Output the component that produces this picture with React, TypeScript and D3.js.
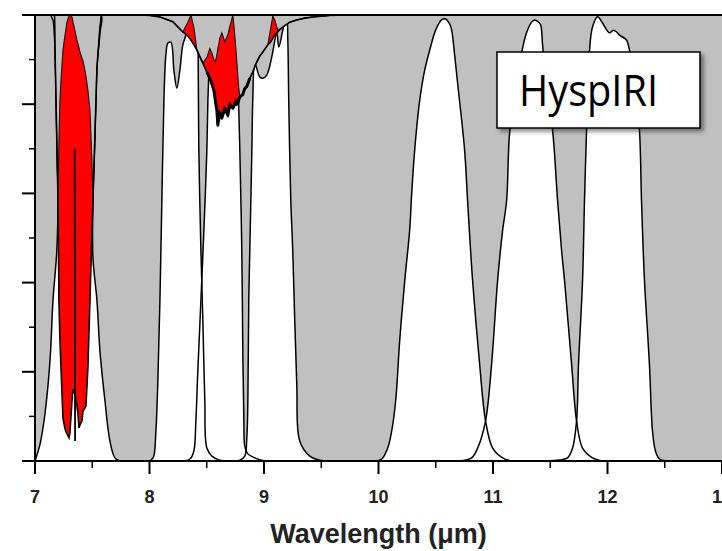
import React from "react";
import * as d3 from "d3";

const WIDTH = 722;
const HEIGHT = 551;

// Axis ticks
const xMajorTicks = [7, 8, 9, 10, 11, 12, 13];
const xMinorTicks = [7.5, 8.5, 9.5, 10.5, 11.5, 12.5];
const yMajorTicks = [0, 0.2, 0.4, 0.6, 0.8, 1.0];
const yMinorTicks = [0.1, 0.3, 0.5, 0.7, 0.9];
const xTickLabels = ["7", "8", "9", "10", "11", "12", "13"];
const xAxisTitle = "Wavelength (\u03bcm)";
const sensorName = "HyspIRI";

// Spectral response functions of the TIR bands: [wavelength (µm), relative response]
const band735: [number, number][] = [
  [7.0, 0], [7.044, 0.038], [7.087, 0.106], [7.131, 0.225], [7.157, 0.36], [7.19, 0.47],
  [7.201, 0.584], [7.192, 0.7], [7.175, 0.92], [7.16, 0.985], [7.145, 1.0], [7.36, 1.0],
  [7.575, 1.0], [7.567, 0.96], [7.541, 0.883], [7.524, 0.735], [7.506, 0.584], [7.506, 0.456],
  [7.541, 0.36], [7.567, 0.247], [7.611, 0.135], [7.654, 0.045], [7.698, 0.007], [7.742, 0],
];
const band828: [number, number][] = [
  [8.0, 0], [8.021, 0.004], [8.038, 0.011], [8.056, 0.067], [8.073, 0.18], [8.091, 0.36],
  [8.108, 0.584], [8.126, 0.809], [8.143, 0.91], [8.161, 0.937], [8.187, 0.939], [8.213, 0.876],
  [8.239, 0.836], [8.265, 0.876], [8.291, 0.933], [8.318, 0.955], [8.36, 1.0], [8.414, 1.0],
  [8.425, 0.9], [8.431, 0.697], [8.449, 0.472], [8.466, 0.315], [8.483, 0.135], [8.501, 0.029],
  [8.545, 0.011], [8.614, 0.002], [8.7, 0],
];
const band863: [number, number][] = [
  [8.28, 0], [8.353, 0.0045], [8.387, 0.022], [8.405, 0.09], [8.422, 0.202], [8.449, 0.36],
  [8.475, 0.517], [8.501, 0.697], [8.51, 0.809], [8.52, 0.88], [8.527, 0.917], [8.545, 0.9],
  [8.579, 0.966], [8.632, 1.0], [8.754, 1.0], [8.771, 0.876], [8.789, 0.697], [8.806, 0.472],
  [8.815, 0.247], [8.824, 0.09], [8.832, 0.034], [8.859, 0.016], [8.92, 0.007], [9.007, 0],
];
const band907: [number, number][] = [
  [8.72, 0], [8.789, 0.002], [8.832, 0.011], [8.85, 0.052], [8.859, 0.135], [8.867, 0.36],
  [8.876, 0.472], [8.894, 0.697], [8.902, 0.809], [8.92, 0.892], [8.963, 0.861], [8.99, 0.858],
  [9.024, 0.865], [9.068, 0.906], [9.112, 0.96], [9.129, 0.928], [9.164, 0.966], [9.181, 0.982],
  [9.199, 0.989], [9.208, 0.944], [9.216, 0.809], [9.234, 0.584], [9.251, 0.472], [9.286, 0.173],
  [9.312, 0.045], [9.4, 0.011], [9.487, 0.002], [9.574, 0],
];
const band1053: [number, number][] = [
  [9.967, 0], [10.028, 0.0045], [10.08, 0.029], [10.115, 0.067], [10.15, 0.135], [10.185, 0.27],
  [10.229, 0.404], [10.272, 0.517], [10.29, 0.6], [10.316, 0.697], [10.36, 0.809], [10.403, 0.876],
  [10.447, 0.921], [10.499, 0.966], [10.551, 0.989], [10.586, 0.991], [10.621, 0.98], [10.639, 0.966],
  [10.665, 0.91], [10.691, 0.847], [10.752, 0.697], [10.778, 0.584], [10.822, 0.404], [10.883, 0.218],
  [10.935, 0.09], [10.997, 0.029], [11.084, 0.007], [11.162, 0],
];
const band1133: [number, number][] = [
  [10.708, 0], [10.813, 0.007], [10.866, 0.029], [10.935, 0.09], [10.988, 0.218], [11.04, 0.404],
  [11.084, 0.517], [11.119, 0.584], [11.145, 0.735], [11.188, 0.809], [11.25, 0.915], [11.293, 0.96],
  [11.337, 0.984], [11.363, 0.989], [11.398, 0.984], [11.416, 0.978], [11.433, 0.933], [11.468, 0.831],
  [11.52, 0.742], [11.564, 0.584], [11.599, 0.472], [11.625, 0.404], [11.686, 0.218], [11.73, 0.09],
  [11.782, 0.029], [11.869, 0.007], [11.948, 0],
];
const band1205: [number, number][] = [
  [11.45, 0], [11.581, 0.002], [11.651, 0.007], [11.695, 0.029], [11.73, 0.09], [11.747, 0.218],
  [11.782, 0.404], [11.799, 0.584], [11.817, 0.742], [11.834, 0.854], [11.843, 0.921], [11.869, 0.973],
  [11.913, 0.996], [11.956, 0.982], [12.017, 0.96], [12.052, 0.966], [12.079, 0.962], [12.105, 0.955],
  [12.166, 0.944], [12.192, 0.921], [12.236, 0.854], [12.279, 0.742], [12.297, 0.584], [12.323, 0.404],
  [12.366, 0.218], [12.393, 0.067], [12.419, 0.022], [12.454, 0.0045], [12.506, 0],
];
const bands = [band735, band828, band863, band907, band1053, band1133, band1205];

// Atmospheric transmission (black) and the alternate profile (red fill between them)
const atmWavelength = [
  6.8, 7.17, 7.175, 7.192, 7.201, 7.209, 7.218, 7.227, 7.244, 7.262, 7.279, 7.297, 7.305, 7.323,
  7.332, 7.349, 7.366, 7.375, 7.384, 7.393, 7.41, 7.419, 7.436, 7.445, 7.462, 7.48, 7.497, 7.506,
  7.524, 7.541, 7.567, 7.58, 7.916, 8.003, 8.091, 8.204, 8.291, 8.335, 8.362, 8.388, 8.414, 8.466,
  8.501, 8.527, 8.545, 8.562, 8.571, 8.579, 8.588, 8.597, 8.606, 8.614, 8.632, 8.658, 8.684, 8.702,
  8.71, 8.728, 8.745, 8.754, 8.762, 8.771, 8.78, 8.789, 8.815, 8.832, 8.85, 8.876, 8.902, 8.928,
  8.963, 8.99, 9.033, 9.059, 9.077, 9.094, 9.12, 9.164, 9.225, 9.286, 9.356, 9.426, 9.574, 9.705,
  13.5,
];
const atmTransmission = [
  1, 1, 0.92, 0.7, 0.584, 0.36, 0.27, 0.209, 0.097, 0.072, 0.061, 0.052, 0.063, 0.135,
  0.16, 0.15, 0.124, 0.106, 0.074, 0.081, 0.09, 0.112, 0.119, 0.124, 0.209, 0.36, 0.51, 0.584,
  0.735, 0.883, 0.97, 1, 1, 0.999, 0.9955, 0.985, 0.962, 0.953, 0.944, 0.933, 0.921, 0.892,
  0.872, 0.858, 0.845, 0.831, 0.816, 0.8, 0.787, 0.753, 0.77, 0.782, 0.769, 0.791, 0.775, 0.8,
  0.795, 0.791, 0.8, 0.809, 0.8, 0.802, 0.81, 0.816, 0.822, 0.835, 0.84, 0.858, 0.872, 0.89,
  0.908, 0.917, 0.933, 0.94, 0.948, 0.955, 0.962, 0.973, 0.984, 0.989, 0.993, 0.9955, 0.999, 1,
  1,
];
const atmTransmissionAlt = [
  1, 1, 0.92, 0.7, 0.584, 0.719, 0.809, 0.854, 0.921, 0.955, 0.984, 0.998, 1.0, 0.9955,
  0.984, 0.965, 0.944, 0.935, 0.926, 0.917, 0.903, 0.897, 0.876, 0.863, 0.831, 0.787, 0.674, 0.584,
  0.735, 0.883, 0.97, 1, 1, 0.999, 0.9955, 0.985, 0.962, 0.984, 1.0, 0.971, 0.921, 0.892,
  0.905, 0.925, 0.915, 0.9, 0.895, 0.9, 0.91, 0.925, 0.935, 0.948, 0.96, 0.94, 0.955, 0.975,
  0.982, 1.0, 0.955, 0.925, 0.899, 0.865, 0.835, 0.816, 0.822, 0.835, 0.84, 0.858, 0.872, 0.89,
  0.908, 0.917, 0.933, 0.971, 0.998, 0.989, 0.966, 0.973, 0.984, 0.989, 0.993, 0.9955, 0.999, 1,
  1,
];
// Narrow dark trace inside the 7.35 µm absorption
const coreTrace: [number, number][] = [[7.346, 0.7], [7.349, 0.3], [7.35, 0.045]];

export default function App() {
  const x = d3.scaleLinear().domain([7, 13]).range([35, 722]);
  const y = d3.scaleLinear().domain([0, 1]).range([461, 15]);

  const atm = atmWavelength.map((w, i) => ({ w, t: atmTransmission[i], t2: atmTransmissionAlt[i] }));
  const jagged = atm.filter((d) => d.w >= 8.49 && d.w <= 8.9);

  const underAtm = d3
    .area<{ w: number; t: number }>()
    .x((d) => x(d.w))
    .y0(y(-0.05))
    .y1((d) => y(d.t))(atm) as string;
  const redArea = d3
    .area<{ w: number; t: number; t2: number }>()
    .x((d) => x(d.w))
    .y0((d) => y(d.t))
    .y1((d) => y(d.t2))(atm) as string;
  const tLine = d3.line<{ w: number; t: number }>().x((d) => x(d.w)).y((d) => y(d.t));
  const t2Line = d3.line<{ w: number; t2: number }>().x((d) => x(d.w)).y((d) => y(d.t2));
  const bandLine = d3
    .line<[number, number]>()
    .x((d) => x(d[0]))
    .y((d) => y(d[1]))
    .curve(d3.curveCatmullRom.alpha(0.5));
  const plainLine = d3.line<[number, number]>().x((d) => x(d[0])).y((d) => y(d[1]));

  const axisFont = "'Liberation Sans', Arial, sans-serif";

  return (
    <svg
      width={WIDTH}
      height={HEIGHT}
      style={{ position: "absolute", left: 0, top: 0, background: "#fff" }}
    >
      <defs>
        <clipPath id="plotClip">
          <rect x={35} y={15} width={WIDTH - 35} height={446} />
        </clipPath>
        <clipPath id="atmClip">
          <path d={underAtm} />
        </clipPath>
        <filter id="boxShadow" x="-10%" y="-10%" width="130%" height="140%">
          <feDropShadow dx="3" dy="3" stdDeviation="2" floodColor="#000" floodOpacity="0.45" />
        </filter>
      </defs>

      <g clipPath="url(#plotClip)">
        <rect x={35} y={15} width={WIDTH - 35} height={446} fill="#c0c0c0" />
        <g clipPath="url(#atmClip)">
          {bands.map((b, i) => (
            <path key={"f" + i} d={(bandLine(b) as string) + "Z"} fill="#fff" />
          ))}
          {bands.map((b, i) => (
            <path key={"s" + i} d={bandLine(b) as string} fill="none" stroke="#000" strokeWidth={1.5} />
          ))}
        </g>
        <path d={redArea} fill="#ff0000" />
        <path d={t2Line(atm) as string} fill="none" stroke="#111" strokeWidth={1.1} />
        <path d={tLine(atm) as string} fill="none" stroke="#000" strokeWidth={1.6} />
        <path d={tLine(jagged) as string} fill="none" stroke="#000" strokeWidth={3} strokeLinejoin="round" />
        <path d={plainLine(coreTrace) as string} fill="none" stroke="#000" strokeWidth={1.8} />
      </g>

      {/* frame */}
      <line x1={35} x2={WIDTH} y1={15} y2={15} stroke="#000" strokeWidth={2} />
      <line x1={35} x2={35} y1={15} y2={461} stroke="#000" strokeWidth={2} />
      <line x1={35} x2={WIDTH} y1={461} y2={461} stroke="#000" strokeWidth={2} />

      {/* y ticks */}
      {yMajorTicks.map((t) => (
        <line key={"ym" + t} x1={22} x2={35} y1={y(t)} y2={y(t)} stroke="#000" strokeWidth={2} />
      ))}
      {yMinorTicks.map((t) => (
        <line key={"yn" + t} x1={29} x2={35} y1={y(t)} y2={y(t)} stroke="#000" strokeWidth={1.5} />
      ))}

      {/* x ticks */}
      {xMajorTicks.map((t) => (
        <line key={"xm" + t} x1={x(t)} x2={x(t)} y1={461} y2={474} stroke="#000" strokeWidth={2} />
      ))}
      {xMinorTicks.map((t) => (
        <line key={"xn" + t} x1={x(t)} x2={x(t)} y1={461} y2={468} stroke="#000" strokeWidth={1.5} />
      ))}
      {xMajorTicks.map((t, i) => (
        <text
          key={"xl" + t}
          x={x(t)}
          y={503}
          textAnchor="middle"
          fontFamily={axisFont}
          fontWeight="bold"
          fontSize={18}
          fill="#222"
        >
          {xTickLabels[i]}
        </text>
      ))}
      <text
        x={(35 + 722) / 2}
        y={543}
        textAnchor="middle"
        fontFamily={axisFont}
        fontWeight="bold"
        fontSize={27}
        fill="#222"
      >
        {xAxisTitle}
      </text>

      {/* sensor label */}
      <rect x={497} y={52} width={203} height={76} fill="#fff" stroke="#000" strokeWidth={1.5} filter="url(#boxShadow)" />
      <text
        x={519}
        y={106}
        fontFamily="'Open Sans', 'Noto Sans', sans-serif"
        fontSize={43}
        textLength={139}
        lengthAdjust="spacingAndGlyphs"
        fill="#000"
      >
        {sensorName}
      </text>
    </svg>
  );
}
